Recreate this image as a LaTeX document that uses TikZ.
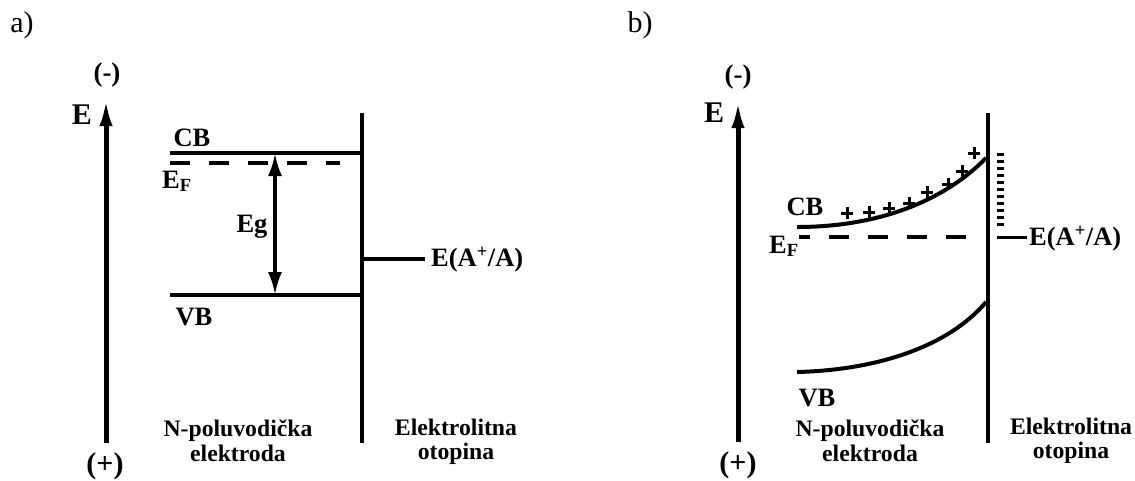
\documentclass[tikz,border=0pt]{standalone}
\usepackage{fontspec}
\setmainfont{Liberation Serif}
\usetikzlibrary{arrows.meta,positioning}

\begin{document}
\begin{tikzpicture}[
  x=1pt,y=-1pt,
  band/.style={line width=4pt},
  fermi/.style={line width=4pt,dash pattern=on 20pt off 19pt},
  eaxis/.style={line width=5pt,-{Latex[length=28pt,width=13pt]}},
  gaparrow/.style={line width=3.5pt,{Latex[length=23pt,width=14pt]}-{Latex[length=23pt,width=14pt]}},
  lbl/.style={inner sep=0pt,font=\fontsize{26.5}{28}\selectfont\bfseries},
  biglbl/.style={inner sep=0pt,font=\fontsize{30}{32}\selectfont\bfseries},
  sign/.style={inner sep=0pt,font=\fontsize{27}{29}\selectfont\bfseries},
  side/.style={inner sep=0pt,align=center,font=\fontsize{23.7}{24.5}\selectfont\bfseries},
  panel/.style={inner sep=0pt,font=\fontsize{30}{32}\selectfont},
  charge/.style={line width=3pt}
]
\useasboundingbox (0,0) rectangle (1135,480);

% ---- a) flat bands
\node[panel] (pa) at (22,25) {a)};
\coordinate (aAxisBot) at (106,443);
\coordinate (aAxisTop) at (106,98);
\draw[eaxis] (aAxisBot) -- (aAxisTop);
\node[sign] (aMinus) at (107,75) {(-)};
\node[sign,font=\fontsize{30}{32}\selectfont\bfseries] (aPlus) at (105,466) {(+)};
\node[biglbl] (aE) at (82,115) {E};

\coordinate (aIfTop) at (362,113);
\coordinate (aIfBot) at (362,443);
\draw[band] (aIfTop) -- (aIfBot);

\coordinate (aCBl) at (170,153);
\coordinate (aCBr) at (362,153);
\coordinate (aVBl) at (170,295);
\coordinate (aVBr) at (362,295);
\coordinate (aEFl) at (170,163);
\coordinate (aEFr) at (340,163);
\draw[band] (aCBl) -- (aCBr);
\draw[band] (aVBl) -- (aVBr);
\draw[fermi] (aEFl) -- (aEFr);

\coordinate (aGapTop) at (275,153);
\coordinate (aGapBot) at (275,295);
\draw[gaparrow] (aGapBot) -- (aGapTop);
\node[lbl] (aEg) at (252,227) {Eg};

\node[lbl] (aCB) at (192,138) {CB};
\node[lbl] (aVB) at (194,317) {VB};
\node[lbl,anchor=base west] (aEF) at (162,188) {E\textsubscript{F}};

\coordinate (aRedox) at (425,259);
\draw[band] (aIfBot |- aRedox) -- (aRedox);
\node[lbl,anchor=west] (aRedoxLbl) at (431,260) {E(A\textsuperscript{+}/A)};

\node[side] (aSemi) at (238,441) {N-poluvodička\\elektroda};
\node[side] (aSol) at (456,442) {Elektrolitna\\otopina};

% ---- b) bent bands
\node[panel] (pb) at (640,25) {b)};
\coordinate (bAxisBot) at (738,442);
\coordinate (bAxisTop) at (738,100);
\draw[eaxis] (bAxisBot) -- (bAxisTop);
\node[sign] (bMinus) at (738,77) {(-)};
\node[sign,font=\fontsize{30}{32}\selectfont\bfseries] (bPlus) at (738,465) {(+)};
\node[biglbl] (bE) at (714,113) {E};

\coordinate (bIfTop) at (988,113);
\coordinate (bIfBot) at (988,443);
\draw[band] (bIfTop) -- (bIfBot);

\coordinate (bCBl) at (797,227);
\coordinate (bCBr) at (986,158);
\coordinate (bVBl) at (797,372);
\coordinate (bVBr) at (986,302);
\draw[band] (bCBl) .. controls (880,227) and (945,200) .. (bCBr);
\draw[band] (bVBl) .. controls (880,370) and (950,345) .. (bVBr);

\coordinate (bEFr) at (966,237);
\coordinate (bEFl) at (799,237);
\draw[fermi] (bEFr) -- (bEFl);

% space charge
\foreach \px/\py [count=\i] in {847/213,869/212,889/208,909/203,927/192,948/184,962/171,974/153}{
  \coordinate (plus\i) at (\px,\py);
  \draw[charge] (plus\i) +(-6,0) -- +(6,0) (plus\i) +(0,-6) -- +(0,6);
}

\coordinate (bDotTop) at (1000,153);
\coordinate (bDotBot) at (1000,226);
\draw[line width=7pt,dash pattern=on 2.5pt off 4.5pt] (bDotTop) -- (bDotBot);

\coordinate (bRedoxL) at (997,237);
\coordinate (bRedoxR) at (1027,237);
\draw[line width=3pt] (bRedoxL) -- (bRedoxR);
\node[lbl,anchor=west] (bRedoxLbl) at (1029,239) {E(A\textsuperscript{+}/A)};

\node[lbl] (bCB) at (805,207) {CB};
\node[lbl] (bVB) at (817,398) {VB};
\node[lbl,anchor=base west] (bEF) at (769,253) {E\textsubscript{F}};

\node[side] (bSemi) at (870,441) {N-poluvodička\\elektroda};
\node[side] (bSol) at (1071,441) {Elektrolitna\\otopina};
\end{tikzpicture}
\end{document}
